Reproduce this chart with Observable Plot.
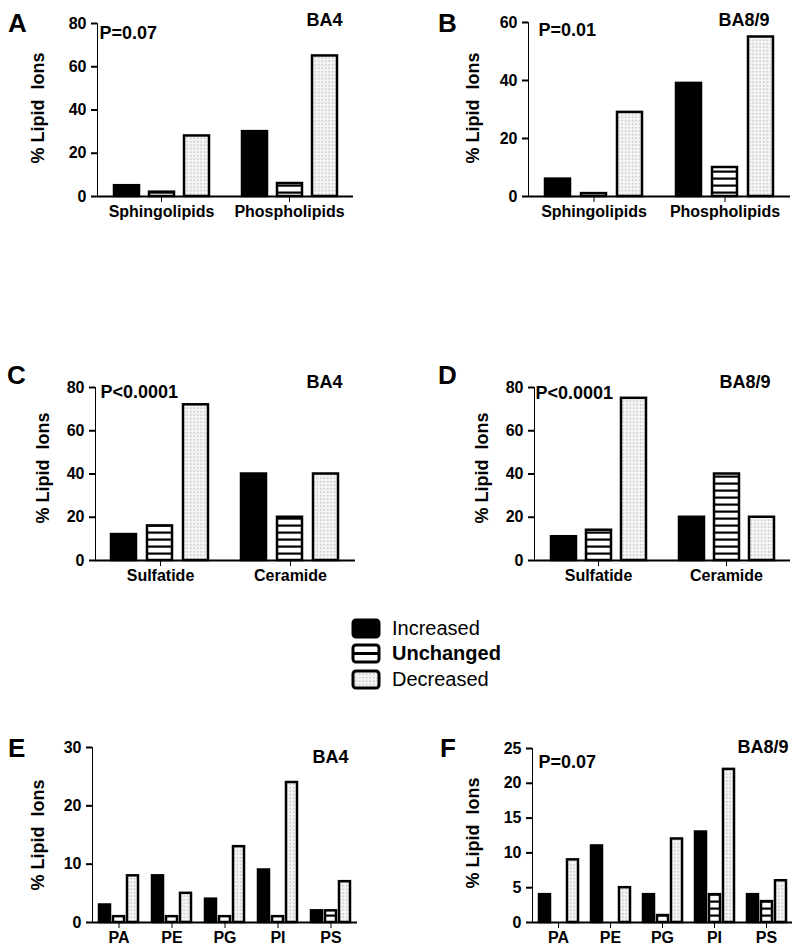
<!DOCTYPE html>
<html><head><meta charset="utf-8">
<script src="https://cdn.jsdelivr.net/npm/d3@7"></script>
<script src="https://cdn.jsdelivr.net/npm/@observablehq/plot@0.6"></script>
<style>
body{margin:0;background:#fff;}
#fig{position:relative;width:800px;height:952px;font-family:"Liberation Sans",Arial,sans-serif;color:#000;overflow:hidden;}
.abs{position:absolute;}
.letter{font-size:26px;font-weight:bold;line-height:1;}
.ylab{font-size:18px;font-weight:bold;white-space:pre;line-height:1;transform:translate(-50%,-50%) rotate(-90deg);}
.panel svg{overflow:visible;}
.panel svg text{font-family:"Liberation Sans",Arial,sans-serif;font-weight:bold;}
g[aria-label^="fx-axis"] text{font-size:16px !important;}
g[aria-label^="y-axis"] text{font-size:16px !important;}
g[aria-label^="y-axis"] path, g[aria-label^="y-axis"] line{stroke-width:2px;}
.leg{font-size:20px;line-height:1;}
</style></head>
<body>
<svg width="0" height="0" style="position:absolute">
  <defs>
    <pattern id="stripes" patternUnits="userSpaceOnUse" width="8" height="7">
      <rect width="8" height="7" fill="#fff"/>
      <rect y="2.5" width="8" height="2.2" fill="#000"/>
    </pattern>
    <pattern id="dots" patternUnits="userSpaceOnUse" width="3.5" height="3.5">
      <rect width="3.5" height="3.5" fill="#f4f4f4"/>
      <rect x="1.2" y="1.2" width="1" height="1" fill="#8a8a8a"/>
    </pattern>
  </defs>
</svg>
<div id="fig"></div>
<script>
// ---- data ----
const statuses = ["Increased", "Unchanged", "Decreased"];
const statusFills = ["#000", "url(#stripes)", "url(#dots)"];
const catsAB = ["Sphingolipids", "Phospholipids"];
const catsCD = ["Sulfatide", "Ceramide"];
const catsEF = ["PA", "PE", "PG", "PI", "PS"];
// values per category: [Increased, Unchanged, Decreased]
const valuesA = [[5, 2, 28], [30, 6, 65]];
const valuesB = [[6, 1, 29], [39, 10, 55]];
const valuesC = [[12, 16, 72], [40, 20, 40]];
const valuesD = [[11, 14, 75], [20, 40, 20]];
const valuesE = [[3, 1, 8], [8, 1, 5], [4, 1, 13], [9, 1, 24], [2, 2, 7]];
const valuesF = [[4, 0, 9], [11, 0, 5], [4, 1, 12], [13, 4, 22], [4, 3, 6]];
const ticksA = [0, 20, 40, 60, 80];
const ticksB = [0, 20, 40, 60];
const ticksC = [0, 20, 40, 60, 80];
const ticksD = [0, 20, 40, 60, 80];
const ticksE = [0, 10, 20, 30];
const ticksF = [0, 5, 10, 15, 20, 25];
const letters = ["A", "B", "C", "D", "E", "F"];
const regions = ["BA4", "BA8/9", "BA4", "BA8/9", "BA4", "BA8/9"];
const pvalues = ["P=0.07", "P=0.01", "P<0.0001", "P<0.0001", null, "P=0.07"];
const yLabel = "% Lipid  Ions";

// ---- layout ----
const panels = [
  {cats: catsAB, vals: valuesA, ticks: ticksA, left: 0, top: 0, h: 230, mt: 23, mb: 34, ml: 97, mr: 47, pi: 0.3,
   letterXY: [8, 10], ylabXY: [38, 108], pd: [2, 10], bd: [-11, -3]},
  {cats: catsAB, vals: valuesB, ticks: ticksB, left: 400, top: 0, h: 230, mt: 22, mb: 34, ml: 128, mr: 10, pi: 0.3,
   letterXY: [438, 10], ylabXY: [473, 108], pd: [10, 8], bd: [-21, -2]},
  {cats: catsCD, vals: valuesC, ticks: ticksC, left: 0, top: 340, h: 250, mt: 47, mb: 30, ml: 95, mr: 45, pi: 0.3,
   letterXY: [7, 362], ylabXY: [43, 468], pd: [5, 5], bd: [-13, -5]},
  {cats: catsCD, vals: valuesD, ticks: ticksD, left: 400, top: 340, h: 250, mt: 47, mb: 30, ml: 133, mr: 10, pi: 0.3,
   letterXY: [438, 362], ylabXY: [482, 468], pd: [1, 6], bd: [-20, -5]},
  {cats: catsEF, vals: valuesE, ticks: ticksE, left: 0, top: 730, h: 222, mt: 17, mb: 30, ml: 92, mr: 43, pi: 0.25,
   letterXY: [8, 735], ylabXY: [38, 835], pd: [2, 10], bd: [-9, 10]},
  {cats: catsEF, vals: valuesF, ticks: ticksF, left: 400, top: 730, h: 222, mt: 18, mb: 30, ml: 131, mr: 8, pi: 0.25,
   letterXY: [440, 735], ylabXY: [473, 833], pd: [6, 14], bd: [-4, -1]}
];

const fig = document.getElementById("fig");
const font = "'Liberation Sans', Arial, sans-serif";

panels.forEach((p, i) => {
  const rows = [];
  p.cats.forEach((c, ci) => statuses.forEach((s, si) => rows.push({cat: c, status: s, value: p.vals[ci][si]})));
  const marks = [
    Plot.barY(rows, {fx: "cat", x: "status", y: "value", fill: "status", stroke: "#000", strokeWidth: 2.5}),
    Plot.ruleY([0], {stroke: "#000", strokeWidth: 2})
  ];
  if (pvalues[i]) marks.push(Plot.text([{cat: p.cats[0], t: pvalues[i]}], {
    fx: "cat", text: "t", frameAnchor: "top-left", textAnchor: "start", lineAnchor: "middle",
    dx: p.pd[0], dy: p.pd[1], fontSize: 18, fontWeight: "bold"}));
  marks.push(Plot.text([{cat: p.cats[p.cats.length - 1], t: regions[i]}], {
    fx: "cat", text: "t", frameAnchor: "top-right", textAnchor: "end", lineAnchor: "middle",
    dx: p.bd[0], dy: p.bd[1], fontSize: 18, fontWeight: "bold"}));
  const chart = Plot.plot({
    width: 400, height: p.h,
    marginTop: p.mt, marginBottom: p.mb, marginLeft: p.ml, marginRight: p.mr,
    style: {fontFamily: font, fontSize: "16px", fontWeight: "bold", background: "transparent", color: "#000"},
    fx: {domain: p.cats, padding: 0, axis: "bottom", tickSize: 6, tickPadding: 3, label: null},
    x: {domain: statuses, paddingInner: p.pi, paddingOuter: 0.45, axis: null},
    y: {domain: [p.ticks[0], p.ticks[p.ticks.length - 1]], ticks: p.ticks, line: true, tickSize: 6, tickPadding: 5, label: null},
    color: {domain: statuses, range: statusFills},
    marks
  });
  const holder = document.createElement("div");
  holder.className = "abs panel";
  holder.style.left = p.left + "px";
  holder.style.top = p.top + "px";
  holder.appendChild(chart);
  fig.appendChild(holder);

  const L = document.createElement("div");
  L.className = "abs letter";
  L.style.left = p.letterXY[0] + "px";
  L.style.top = p.letterXY[1] + "px";
  L.textContent = letters[i];
  fig.appendChild(L);

  const Y = document.createElement("div");
  Y.className = "abs ylab";
  Y.style.left = p.ylabXY[0] + "px";
  Y.style.top = p.ylabXY[1] + "px";
  Y.textContent = yLabel;
  fig.appendChild(Y);
});

// ---- legend ----
const legendTop = [628, 653, 679];
statuses.forEach((s, i) => {
  const sw = document.createElementNS("http://www.w3.org/2000/svg", "svg");
  sw.setAttribute("width", 30); sw.setAttribute("height", 21);
  sw.setAttribute("class", "abs");
  sw.style.left = "351px"; sw.style.top = (legendTop[i] - 10.5) + "px";
  const r = document.createElementNS("http://www.w3.org/2000/svg", "rect");
  r.setAttribute("x", 2); r.setAttribute("y", 2); r.setAttribute("width", 26); r.setAttribute("height", 17);
  r.setAttribute("rx", 3); r.setAttribute("fill", i === 1 ? "#fff" : statusFills[i]);
  r.setAttribute("stroke", "#000"); r.setAttribute("stroke-width", 3);
  sw.appendChild(r);
  if (i === 1) {
    const ln = document.createElementNS("http://www.w3.org/2000/svg", "line");
    ln.setAttribute("x1", 2); ln.setAttribute("x2", 28); ln.setAttribute("y1", 10.5); ln.setAttribute("y2", 10.5);
    ln.setAttribute("stroke", "#000"); ln.setAttribute("stroke-width", 3);
    sw.appendChild(ln);
  }
  fig.appendChild(sw);
  const t = document.createElement("div");
  t.className = "abs leg";
  t.style.left = "392px"; t.style.top = (legendTop[i] - 10) + "px";
  t.style.fontWeight = i === 1 ? "bold" : "normal";
  t.textContent = s;
  fig.appendChild(t);
});
</script>
</body></html>
